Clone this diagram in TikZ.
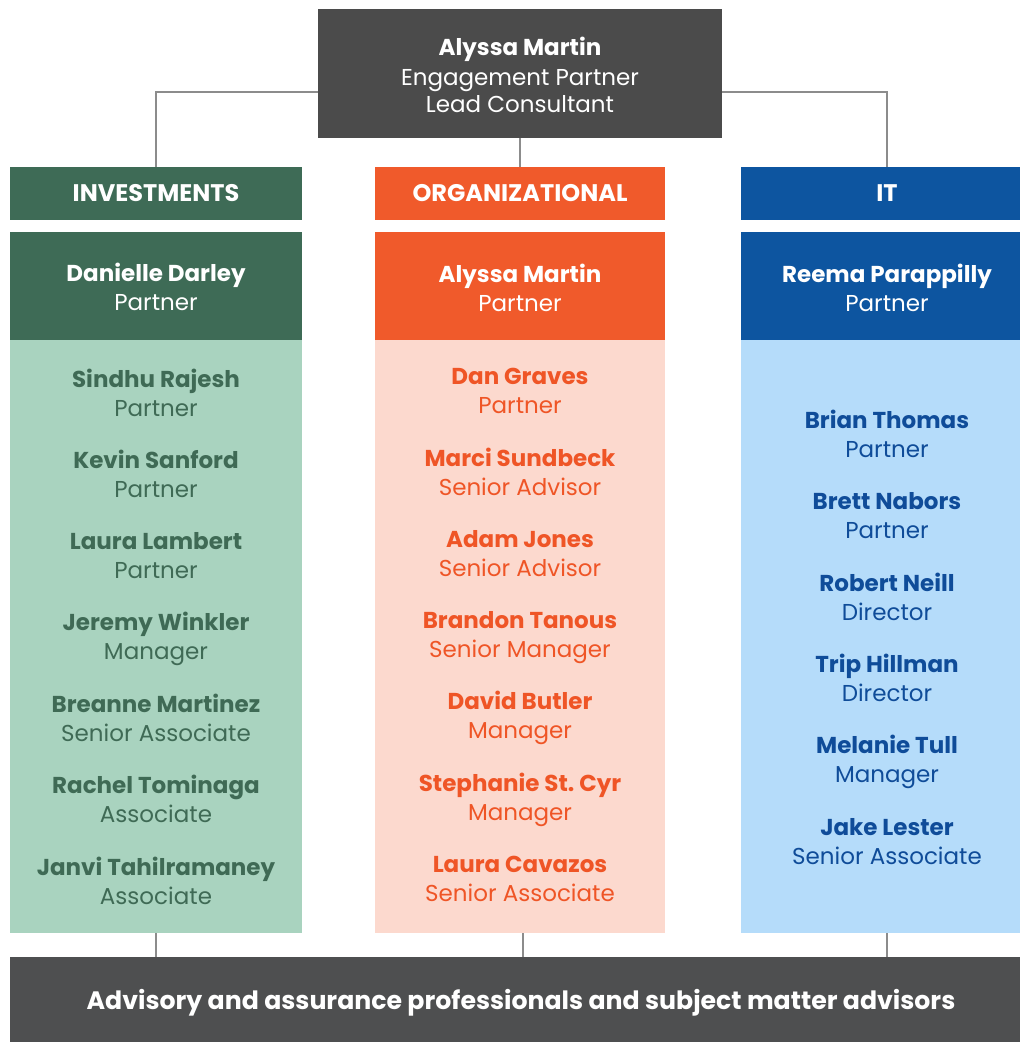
\documentclass[tikz,border=0pt]{standalone}
\usepackage{fontspec}
\setmainfont{Poppins}
\definecolor{topgray}{HTML}{4B4B4B}
\definecolor{botgray}{HTML}{4E4F50}
\definecolor{gdark}{HTML}{3E6B56}
\definecolor{glight}{HTML}{A9D3BF}
\definecolor{gtext}{HTML}{3F6A55}
\definecolor{odark}{HTML}{F05A2B}
\definecolor{olight}{HTML}{FCD9CE}
\definecolor{otext}{HTML}{EF5526}
\definecolor{bdark}{HTML}{0D55A0}
\definecolor{blight}{HTML}{B5DCFA}
\definecolor{btext}{HTML}{0F4C99}
\definecolor{linegray}{HTML}{8C8C8C}
\tikzset{
  box/.style={inner sep=0pt, outer sep=0pt, draw=none},
  conn/.style={draw=linegray, line width=1.3pt},
  nm/.style={font=\fontsize{23}{27}\selectfont\bfseries, inner sep=0pt, anchor=center, text height=16pt, text depth=0pt},
  rl/.style={font=\fontsize{23}{27}\selectfont, inner sep=0pt, anchor=center, text height=16pt, text depth=0pt},
  hd/.style={font=\fontsize{24}{28}\selectfont\bfseries, text=white, inner sep=0pt, anchor=center, text height=17pt, text depth=0pt},
  bigtxt/.style={font=\fontsize{25.2}{29}\selectfont\bfseries, text=white, inner sep=0pt, anchor=center, text height=18pt, text depth=0pt},
}
\begin{document}
\begin{tikzpicture}[x=1pt,y=-1pt]
\useasboundingbox (0,0) rectangle (1020,1042);
\clip (0,0) rectangle (1020,1042);
\fill[white] (0,0) rectangle (1020,1042);
% boxes
\node[box, fill=topgray, minimum width=404pt, minimum height=129pt] (top) at (520,73.5) {};
\node[box, fill=gdark, minimum width=292pt, minimum height=53pt] (hInv) at (156,193.5) {};
\node[box, fill=odark, minimum width=290pt, minimum height=53pt] (hOrg) at (520,193.5) {};
\node[box, fill=bdark, minimum width=292pt, minimum height=53pt] (hIT) at (887,193.5) {};
\node[box, fill=gdark, minimum width=292pt, minimum height=108pt] (pInv) at (156,286) {};
\node[box, fill=odark, minimum width=290pt, minimum height=108pt] (pOrg) at (520,286) {};
\node[box, fill=bdark, minimum width=292pt, minimum height=108pt] (pIT) at (887,286) {};
\node[box, fill=glight, minimum width=292pt, minimum height=593pt] (lInv) at (156,636.5) {};
\node[box, fill=olight, minimum width=290pt, minimum height=593pt] (lOrg) at (520,636.5) {};
\node[box, fill=blight, minimum width=292pt, minimum height=593pt] (lIT) at (887,636.5) {};
\node[box, fill=botgray, minimum width=1030pt, minimum height=90pt] (bot) at (525,1002) {};
% connectors
\coordinate (tl) at (318,92);
\coordinate (tr) at (722,92);
\draw[conn] (tl) -| (hInv.north);
\draw[conn] (tr) -| (hIT.north);
\draw[conn] (top.south) -- (hOrg.north);
\draw[conn] (lInv.south) -- (lInv.south |- bot.north);
\draw[conn] (lOrg.south -| 523,0) -- (bot.north -| 523,0);
\draw[conn] (lIT.south) -- (lIT.south |- bot.north);
% top text
\node[nm, text=white] (t1) at (520,47) {Alyssa Martin};
\node[rl, text=white] (t2) at (520,77) {Engagement Partner};
\node[rl, text=white] (t3) at (520,104) {Lead Consultant};
% headers
\node[hd] (h1) at (156,193) {INVESTMENTS};
\node[hd] (h2) at (520,193) {ORGANIZATIONAL};
\node[hd] (h3) at (887,193) {IT};
% partners
\node[nm, text=white] (p1) at (156,273) {Danielle Darley};
\node[rl, text=white] (p1r) at (156,302) {Partner};
\node[nm, text=white] (p2) at (520,274) {Alyssa Martin};
\node[rl, text=white] (p2r) at (520,303) {Partner};
\node[nm, text=white] (p3) at (887,274) {Reema Parappilly};
\node[rl, text=white] (p3r) at (887,303) {Partner};
% investments list
\foreach \n/\r/\y [count=\i] in {Sindhu Rajesh/Partner/379, Kevin Sanford/Partner/460, Laura Lambert/Partner/541, Jeremy Winkler/Manager/622, Breanne Martinez/Senior Associate/704, Rachel Tominaga/Associate/785, Janvi Tahilramaney/Associate/867}{
  \node[nm, text=gtext] (gi\i) at (156,\y) {\n};
  \node[rl, text=gtext] (gr\i) at (156,\y+29.5) {\r};
}
% organizational list
\foreach \n/\r/\y [count=\i] in {Dan Graves/Partner/376, Marci Sundbeck/Senior Advisor/458, Adam Jones/Senior Advisor/539, Brandon Tanous/Senior Manager/620, David Butler/Manager/701, Stephanie St.\ Cyr/Manager/783, Laura Cavazos/Senior Associate/864}{
  \node[nm, text=otext] (oi\i) at (520,\y) {\n};
  \node[rl, text=otext] (or\i) at (520,\y+29.5) {\r};
}
% IT list
\foreach \n/\r/\y [count=\i] in {Brian Thomas/Partner/420, Brett Nabors/Partner/501, Robert Neill/Director/583, Trip Hillman/Director/664, Melanie Tull/Manager/745, Jake Lester/Senior Associate/827}{
  \node[nm, text=btext] (bi\i) at (887,\y) {\n};
  \node[rl, text=btext] (br\i) at (887,\y+29.5) {\r};
}
% bottom text
\node[bigtxt] (bt) at (521,1000) {Advisory and assurance professionals and subject matter advisors};
\end{tikzpicture}
\end{document}
